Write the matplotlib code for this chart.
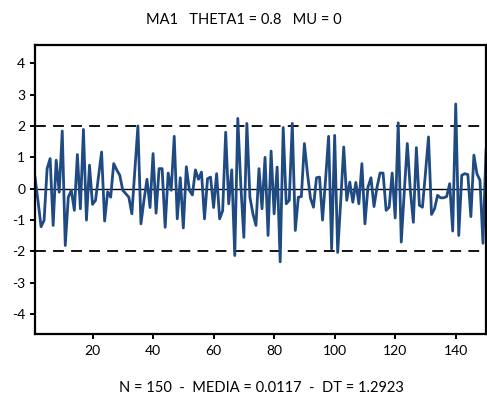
import matplotlib
matplotlib.use("Agg")
import matplotlib.pyplot as plt
import numpy as np

plt.rcParams['font.family'] = ['Lato', 'DejaVu Sans']

# series values (t = 1..150)
values = [
    0.37, -0.40, -1.21, -1.01, 0.64, 0.96, -1.17, 0.91, -0.11, 1.84,
    -1.81, -0.27, -0.05, -0.69, 1.09, -0.64, 1.89, -1.00, 0.75, -0.50,
    -0.37, 0.40, 1.17, -1.03, -0.10, -0.27, 0.80, 0.60, 0.43, -0.05,
    -0.16, -0.27, -0.80, 0.60, 2.00, -1.12, -0.37, 0.30, -0.60, 1.12,
    -0.78, 0.64, 0.64, -1.23, 0.50, -0.05, 1.67, -0.96, 0.35, -1.25,
    0.70, -0.05, -0.20, 0.60, 0.30, 0.53, -0.96, 0.32, 0.37, -0.60,
    0.48, -0.96, -0.70, 1.80, -0.48, 0.60, -2.13, 2.24, 0.10, -1.55,
    2.08, -0.27, -0.80, -1.17, 0.64, -0.64, 1.00, -1.49, 1.20, -0.80,
    0.69, -2.33, 1.95, -0.48, -0.37, 2.08, -1.33, -0.27, -0.25, 1.44,
    0.50, -0.30, -0.59, 0.35, 0.37, -1.00, 0.30, 1.67, -1.92, 1.70,
    -2.03, -0.40, 1.33, -0.37, 0.21, -0.43, 0.20, -0.48, 0.80, -1.12,
    0.05, 0.35, -0.57, 0.05, 0.50, 0.50, -0.69, -0.59, 0.50, -0.93,
    2.10, -1.70, -0.10, 1.44, -0.05, -1.07, 1.31, -0.53, -0.59, 0.50,
    1.65, -0.82, -0.64, -0.21, -0.29, -0.29, -0.25, 0.16, -1.35, 2.70,
    -1.49, 0.43, 0.48, 0.45, -0.89, 1.07, 0.48, 0.27, -1.74, 1.23,
]
t = np.arange(1, len(values) + 1)
band = 2
xticks = [20, 40, 60, 80, 100, 120, 140]
yticks = [4, 3, 2, 1, 0, -1, -2, -3, -4]

title = "MA1   THETA1 = 0.8   MU = 0"
footer = "N = 150  -  MEDIA = 0.0117  -  DT = 1.2923"

W, H = 487, 401
fig = plt.figure(figsize=(W / 100, H / 100), dpi=100)
ax = fig.add_axes([35 / W, 1 - 334 / H, 451 / W, 289 / H])

ax.axhline(0, color='black', lw=1.0, zorder=1)
ax.axhline(band, color='black', lw=1.3, ls=(0, (6, 4)), zorder=1)
ax.axhline(-band, color='black', lw=1.3, ls=(0, (6, 4)), zorder=1)
ax.plot(t, values, color='#1f4a82', lw=2.0, zorder=2)

ax.set_xlim(1, 150)
ax.set_ylim(-4.63, 4.58)
ax.set_xticks(xticks)
ax.set_yticks(yticks)
ax.set_yticklabels([str(v) for v in yticks])
ax.tick_params(direction='out', length=3.6, width=1.4, labelsize=10)
ax.tick_params(axis='y', pad=3.5)
ax.tick_params(axis='x', pad=4)
for s in ax.spines.values():
    s.set_linewidth(1.6)

fig.text(244 / W, 1 - 20 / H, title, ha='center', va='center', fontsize=10.5)
fig.text(261 / W, 1 - 388.5 / H, footer, ha='center', va='center', fontsize=10.5)

fig.savefig('out.png', dpi=100)
